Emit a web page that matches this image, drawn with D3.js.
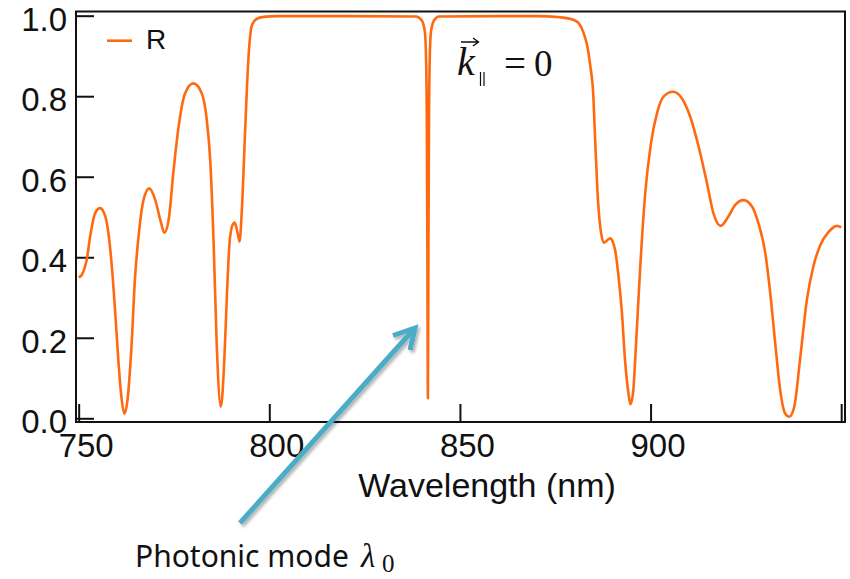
<!DOCTYPE html>
<html>
<head>
<meta charset="utf-8">
<script src="https://cdn.jsdelivr.net/npm/d3@7"></script>
<style>
  html, body { margin: 0; padding: 0; background: #fff; }
  svg { display: block; }
</style>
</head>
<body>
<svg id="chart" width="850" height="579"></svg>
<script>
// Reflectance spectrum at normal incidence
const wavelength = [
  750.0, 750.8, 751.5, 752.1, 753.0, 754.3, 755.6, 757.0, 757.8, 758.7,
  759.6, 760.4, 761.3, 762.0, 762.8, 763.8, 764.8, 765.7, 767.0, 768.5,
  770.1, 771.4, 772.5, 773.6, 774.9, 776.2, 777.9, 780.1, 782.3, 783.6,
  784.5, 785.4, 786.2, 787.3, 788.2, 788.9, 789.5, 790.2, 790.9, 791.7,
  792.2, 792.8, 793.7, 794.5, 795.4, 796.7, 798.5, 802.0, 820.0, 838.5,
  840.0, 840.8, 841.1, 841.3, 841.45, 841.6, 841.75, 841.9, 842.1, 842.4,
  843.2, 844.5, 860.0, 870.0, 876.3, 879.7, 881.1, 882.4, 883.5, 884.2,
  885.0, 885.5, 886.1, 886.8, 887.8, 888.6, 889.4, 890.1, 890.7, 891.6,
  892.5, 893.3, 894.2, 894.7, 895.4, 896.2, 897.3, 898.6, 900.1, 901.7,
  903.4, 905.9, 908.2, 910.4, 912.6, 914.8, 916.5, 918.4, 920.4, 922.2,
  924.4, 926.6, 928.3, 930.1, 931.4, 932.7, 934.0, 935.3, 936.4, 937.7,
  939.2, 941.0, 942.7, 944.5, 946.7, 948.9, 950.0
];
const reflectance = [
  0.350, 0.356, 0.372, 0.393, 0.451, 0.509, 0.522, 0.501, 0.460, 0.377,
  0.261, 0.145, 0.045, 0.011, 0.045, 0.170, 0.352, 0.451, 0.542, 0.571,
  0.542, 0.493, 0.461, 0.493, 0.617, 0.724, 0.807, 0.832, 0.807, 0.741,
  0.642, 0.435, 0.186, 0.029, 0.145, 0.310, 0.426, 0.476, 0.486, 0.460,
  0.439, 0.517, 0.724, 0.890, 0.975, 0.992, 0.997, 0.999, 0.999, 0.998,
  0.988, 0.960, 0.900, 0.760, 0.450, 0.050, 0.450, 0.760, 0.900, 0.960,
  0.988, 0.998, 0.999, 0.999, 0.996, 0.990, 0.982, 0.958, 0.920, 0.875,
  0.800, 0.683, 0.559, 0.476, 0.436, 0.442, 0.447, 0.438, 0.418, 0.352,
  0.261, 0.145, 0.062, 0.035, 0.062, 0.186, 0.377, 0.559, 0.683, 0.758,
  0.799, 0.811, 0.795, 0.749, 0.675, 0.584, 0.509, 0.478, 0.501, 0.530,
  0.542, 0.526, 0.484, 0.410, 0.310, 0.186, 0.070, 0.012, 0.004, 0.029,
  0.145, 0.294, 0.377, 0.430, 0.463, 0.478, 0.474
];
const xTicks = [750, 800, 850, 900, 950];
const xTickLabels = ["750", "800", "850", "900", ""];
const yTicks = [0, 0.2, 0.4, 0.6, 0.8, 1.0];
const seriesName = "R";
const xTitle = "Wavelength (nm)";
const modeLabel = "Photonic mode";

const svg = d3.select("#chart");
const orange = "#ff6a10";
const arrowBlue = "#4bacc6";
const sans = "'Liberation Sans', Arial, sans-serif";
const serif = "'Liberation Serif', 'Times New Roman', serif";

const plotL = 76, plotR = 845, plotT = 11.5, plotB = 422;
const x = d3.scaleLinear().domain([749.3, 951]).range([plotL, plotR]);
const y = d3.scaleLinear().domain([-0.0092, 1.0104]).range([plotB, plotT]);

// Frame
svg.append("rect")
  .attr("x", plotL).attr("y", plotT)
  .attr("width", plotR - plotL).attr("height", plotB - plotT)
  .attr("fill", "none").attr("stroke", "#111").attr("stroke-width", 2);

// Bottom axis: ticks point inward, labels placed beneath
const xAxis = svg.append("g").attr("transform", `translate(0,${plotB})`)
  .call(d3.axisTop(x).tickValues(xTicks).tickSize(18).tickFormat(""));
xAxis.select(".domain").remove();
xAxis.selectAll(".tick line").attr("stroke", "#111").attr("stroke-width", 2);
svg.append("g").selectAll("text").data(xTicks).join("text")
  .attr("x", d => x(d) + 7.5).attr("y", 457)
  .attr("text-anchor", "middle")
  .attr("font-family", sans).attr("font-size", 33).attr("fill", "#111")
  .text((d, i) => xTickLabels[i]);

// Left axis
const yAxis = svg.append("g").attr("transform", `translate(${plotL},0)`)
  .call(d3.axisRight(y).tickValues(yTicks).tickSize(18).tickFormat(""));
yAxis.select(".domain").remove();
yAxis.selectAll(".tick line").attr("stroke", "#111").attr("stroke-width", 2);
svg.append("g").selectAll("text").data(yTicks).join("text")
  .attr("x", 67).attr("y", d => y(d) + 15)
  .attr("text-anchor", "end")
  .attr("font-family", sans).attr("font-size", 33).attr("fill", "#111")
  .text(d3.format(".1f"));

// Axis title
svg.append("text")
  .attr("x", 487).attr("y", 497).attr("text-anchor", "middle")
  .attr("font-family", sans).attr("font-size", 34).attr("fill", "#111")
  .text(xTitle);

// Spectrum
const pts = wavelength.map((w, i) => [w, reflectance[i]]);
svg.append("path")
  .datum(pts)
  .attr("fill", "none")
  .attr("stroke", orange)
  .attr("stroke-width", 2.6)
  .attr("stroke-linejoin", "round")
  .attr("d", d3.line().x(d => x(d[0])).y(d => y(d[1])).curve(d3.curveMonotoneX));

// Legend
svg.append("line")
  .attr("x1", 107).attr("x2", 132).attr("y1", 40.7).attr("y2", 40.7)
  .attr("stroke", orange).attr("stroke-width", 2.6);
svg.append("text")
  .attr("x", 146).attr("y", 48.5)
  .attr("font-family", sans).attr("font-size", 28).attr("fill", "#111")
  .text(seriesName);

// In-plane wavevector label: k with vector arrow, parallel subscript, "= 0"
const kg = svg.append("g").attr("fill", "#111");
kg.append("text")
  .attr("x", 457).attr("y", 75)
  .attr("font-family", serif).attr("font-style", "italic").attr("font-size", 40)
  .text("k");
kg.append("path")
  .attr("d", "M461,42 L478,42 M473,38 L478.5,42 L473,46")
  .attr("fill", "none").attr("stroke", "#111").attr("stroke-width", 1.4);
kg.append("path")
  .attr("d", "M480.5,72 L480.5,86 M484,72 L484,86")
  .attr("fill", "none").attr("stroke", "#111").attr("stroke-width", 1.2);
kg.append("text")
  .attr("x", 504).attr("y", 77)
  .attr("font-family", serif).attr("font-size", 39)
  .text("=");
kg.append("text")
  .attr("x", 534).attr("y", 76)
  .attr("font-family", serif).attr("font-size", 37)
  .text("0");

// Pointer to the photonic mode
const defs = svg.append("defs");
const f = defs.append("filter").attr("id", "shadow")
  .attr("x", "-20%").attr("y", "-20%").attr("width", "140%").attr("height", "140%");
f.append("feDropShadow").attr("dx", 2).attr("dy", 2.5).attr("stdDeviation", 1.6)
  .attr("flood-color", "#000").attr("flood-opacity", 0.3);

const ag = svg.append("g").attr("filter", "url(#shadow)")
  .attr("fill", "none").attr("stroke", arrowBlue).attr("stroke-width", 5);
ag.append("line")
  .attr("x1", 240).attr("y1", 523).attr("x2", 414).attr("y2", 329);
ag.append("polyline")
  .attr("points", "393,335.5 415,328 410,350")
  .attr("stroke-linejoin", "miter").attr("stroke-linecap", "butt");

// Mode label
svg.append("text")
  .attr("x", 135).attr("y", 567)
  .attr("font-family", "'Noto Sans', 'Open Sans', sans-serif")
  .attr("font-size", 30).attr("fill", "#111")
  .text(modeLabel);
svg.append("text")
  .attr("x", 361).attr("y", 567)
  .attr("font-family", serif).attr("font-style", "italic").attr("font-size", 33)
  .attr("fill", "#111").text("λ");
svg.append("text")
  .attr("x", 382).attr("y", 572)
  .attr("font-family", serif).attr("font-size", 25)
  .attr("fill", "#111").text("0");
</script>
</body>
</html>
